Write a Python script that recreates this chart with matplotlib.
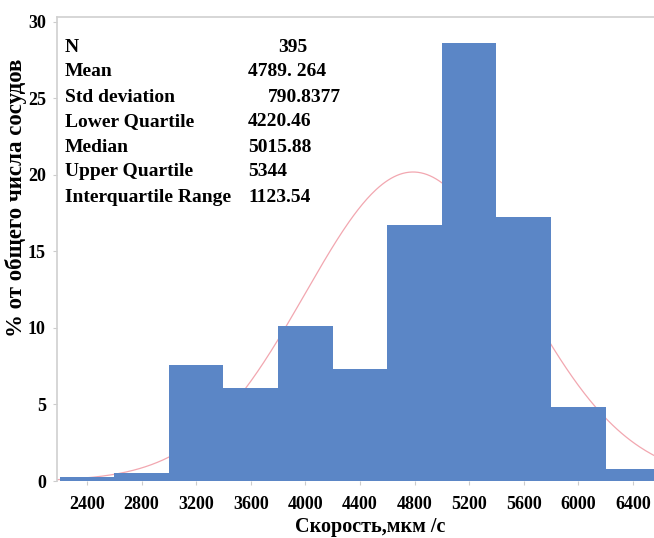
import numpy as np
import matplotlib.pyplot as plt

# histogram bins (мкм/с) and share of vessels (%)
bin_edges = [2200, 2600, 3000, 3400, 3800, 4200, 4600, 5000, 5400, 5800, 6200, 6600]
percent = [0.25, 0.51, 7.59, 6.08, 10.13, 7.34, 16.71, 28.61, 17.22, 4.81, 0.76]

stat_names = ['N', 'Mean', 'Std deviation', 'Lower Quartile', 'Median',
              'Upper Quartile', 'Interquartile Range']
stat_values = ['395', '4789. 264', '790.8377', '4220.46', '5015.88', '5344', '1123.54']
stat_offsets = [30, 0, 20, 0, 0, 0, 0]  # px indent of value column

mean, sd = 4789.264, 790.8377
xticks = [2400, 2800, 3200, 3600, 4000, 4400, 4800, 5200, 5600, 6000, 6400]
yticks = [0, 5, 10, 15, 20, 25, 30]

plt.rcParams['font.family'] = ['Liberation Serif', 'DejaVu Serif']

W, H = 654, 538
fig = plt.figure(figsize=(W / 100, H / 100), dpi=100, facecolor='white')
ax = fig.add_axes([57 / W, (H - 481) / H, 1 - 57 / W, (481 - 17) / H])

edges = np.array(bin_edges)
widths = np.diff(edges)
ax.bar(edges[:-1], percent, width=widths, align='edge', color='#5b86c6',
       edgecolor='none', zorder=2)

# fitted normal curve from the reported mean / sd
xs = np.linspace(2180, 6560, 400)
bw = widths[0]
ys = 100 * bw * np.exp(-0.5 * ((xs - mean) / sd) ** 2) / (sd * np.sqrt(2 * np.pi))
ax.plot(xs, ys, color='#f2a7b0', lw=0.9, zorder=1)

ax.set_xlim(2180, 6555)
ax.set_ylim(0, 30.3)
ax.set_xticks(xticks)
ax.set_yticks(yticks)
ax.tick_params(axis='both', length=3, color='#cccccc', labelsize=13)
ax.tick_params(axis='x', pad=8)
ax.tick_params(axis='y', pad=5)
for lab in ax.get_xticklabels() + ax.get_yticklabels():
    lab.set_fontweight('bold')

for side in ['right', 'bottom']:
    ax.spines[side].set_visible(False)
for side in ['left', 'top']:
    ax.spines[side].set_color('#d0d0d0')
    ax.spines[side].set_linewidth(1.2)

# axis titles placed by their centres
fig.text(370 / W, 1 - 527 / H, 'Скорость,мкм /с', fontsize=14.5,
         fontweight='bold', ha='center', va='center')
fig.text(16 / W, 1 - 198 / H, '% от общего числа сосудов', fontsize=16.5,
         fontweight='bold', ha='center', va='center', rotation=90)

# summary statistics table
for i, (name, val) in enumerate(zip(stat_names, stat_values)):
    ypx = 47 + i * 25
    fig.text(65 / W, 1 - ypx / H, name, fontsize=14, fontweight='bold',
             va='center', ha='left')
    fig.text((248 + stat_offsets[i]) / W, 1 - ypx / H, val, fontsize=14,
             fontweight='bold', va='center', ha='left')

fig.savefig('out.png', dpi=100, facecolor='white')
